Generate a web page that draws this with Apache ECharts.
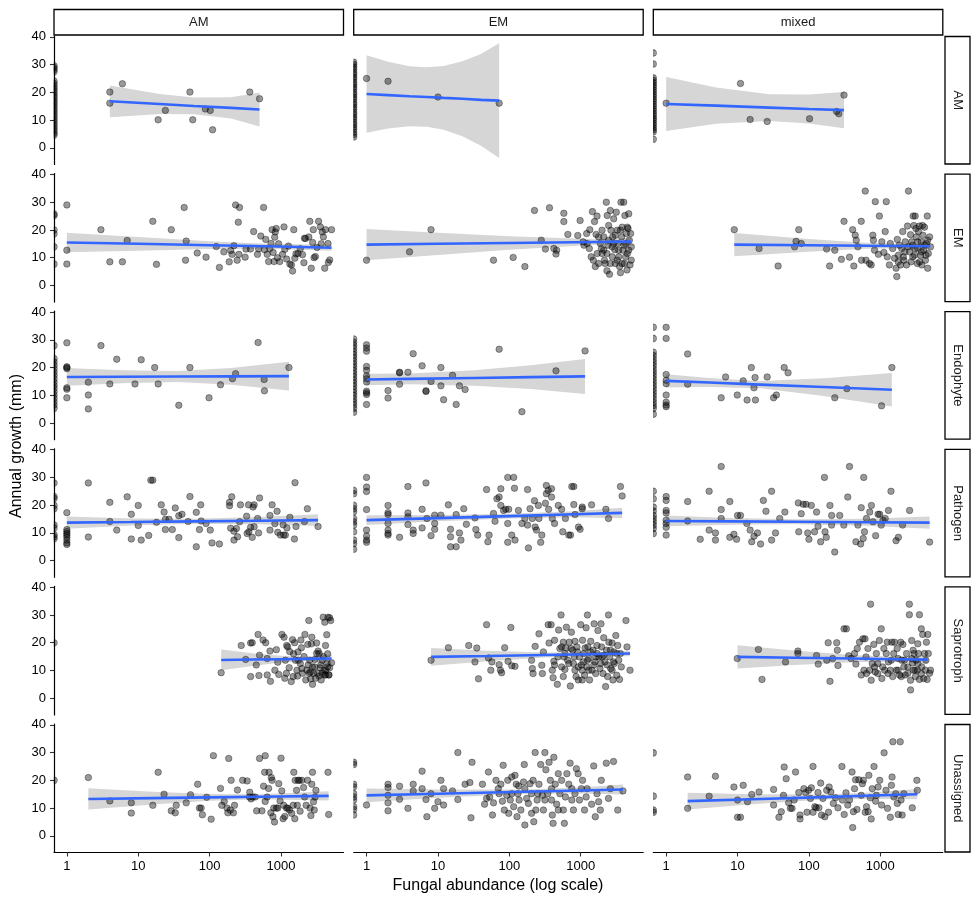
<!DOCTYPE html>
<html>
<head>
<meta charset="utf-8">
<script src="https://cdn.jsdelivr.net/npm/echarts@6/dist/echarts.min.js"></script>
<style>
    html, body { margin: 0; padding: 0; background: #fff; }
    #chart { width: 980px; height: 904px; }
</style>
</head>
<body>
<div id="chart"></div>
<script>
// facet labels and tick labels
var columns = ['AM', 'EM', 'mixed'];
var rows = ['AM', 'EM', 'Endophyte', 'Pathogen', 'Saprotroph', 'Unassigned'];
var xTicks = [1, 10, 100, 1000];
var yTicks = [0, 10, 20, 30, 40];

// points: [fungal abundance, annual growth]; abundance 0 sits on the left border (log of 0)
var pts_AM_AM = [[0,29.6],[0,28.9],[0,28.2],[0,27.4],[0,24.1],[0,23.2],[0,22.3],[0,21.5],[0,20.6],[0,19.8],[0,18.9],[0,18.1],[0,17.2],[0,16.4],[0,15.5],[0,14.7],[0,13.8],[0,13.0],[0,12.1],[0,11.3],[0,10.4],[0,9.6],[0,8.7],[0,7.9],[0,7.0],[0,6.2],[0,5.3],[0,4.6],
    [4,20.1],[4,16.1],[6,23.1],[19,10.1],[24,13.5],[53,20.1],[58,10.1],[87,14],[102,13.5],[110,6.5],[365,20.1],[500,17.7]];
var pts_EM_AM = [[0,30.8],[0,30],[0,29.1],[0,28.3],[0,27.2],[0,26.4],[0,25.5],[0,24.7],[0,23.6],[0,22.8],[0,21.9],[0,21.1],[0,20],[0,19.2],[0,18.3],[0,17.5],[0,16.4],[0,15.6],[0,14.7],[0,13.9],[0,12.8],[0,12],[0,11.1],[0,10.3],[0,9.2],[0,8.4],[0,7.5],[0,6.7],[0,5.6],[0,4.8],[0,3.9],
    [1,25],[2,24],[10,18.3],[72,16.1]];
var pts_mixed_AM = [[0,34.2],[0,30.2],[0,25.2],[0,24.3],[0,23.5],[0,22.6],[0,21.8],[0,20.9],[0,20.1],[0,19.2],[0,18.4],[0,17.5],[0,16.7],[0,15.8],[0,15],[0,14.1],[0,13.3],[0,12.4],[0,11.6],[0,10.7],[0,9.9],[0,9],[0,8.2],[0,7.3],[0,6.5],[0,5.8],[0,3.1],
    [1,16.1],[11,23.2],[15,10.2],[26,9.5],[102,10.5],[244,13.1],[262,12.3],[310,19]];

var pts_AM_EM = [[0,25.7],[0,25.2],[0,20],[0,18.6],[0,13.9],[0,7.7],[1,29],[1,12.7],[1,7.7],
    [3,20.1],[4,8.5],[6,8.5],[7,16.2],[16,23.1],[18,7.6],[29,20.1],[44,28.1],[46,9.1],[47,16],[67,11.7],[89,10.2],
    [124,14],[137,6.5],[158,12.1],[188,8.5],[197,12.6],[206,11.2],[219,14.3],[231,29],[243,9.1],[252,22.8],[262,28.1],[257,11.2],
    [314,10.2],[323,13.1],[373,13.1],[413,19.4],[468,11.2],[485,13.2],[520,17.8],[570,28.1],[585,12.9],[611,16.6],[641,11.2],
    [670,8.6],[695,13.3],[725,15.1],[750,20.1],[775,11.9],[800,8.6],[815,17.4],[830,19.3],[857,20.5],[890,10],[925,15],[960,8.6],
    [1050,11.2],[1100,21.1],[1130,13],[1200,9.5],[1270,14.2],[1330,7.7],[1400,7.4],[1450,5.2],[1510,20.1],[1560,9.8],[1620,11.4],
    [1730,11.5],[1860,13.2],[2000,11.1],[2090,8.2],[2130,17],[2200,16.9],[2450,17.5],[2530,23.1],[2650,6.2],[2770,15.5],[2830,20.1],
    [2900,10],[3030,10.4],[3200,13.7],[3360,23.1],[3560,21.1],[3650,15],[3780,19.3],[3920,17.5],[4090,6.2],[4200,20.1],[4550,15.1],
    [4600,8.3],[4800,9.2],[5100,20.1]];
var pts_EM_EM = [[1,9.1],[4,12.1],[8,20.1],[60,9.1],[113,10.1],[165,6.8],[225,27],[280,16.3],[320,13.1],[365,28],[420,13.3],[450,11.3],
    [460,12.7],[580,26],[580,23],[660,18.4],[910,18],[980,23.4],[1110,14.5],[1210,18.7],[1320,13.3],[1340,20.1],[1460,26.6],
    [1560,23],[1600,6.8],[1640,18.4],[1690,25],[1780,7.9],[1880,15.1],[1990,11.5],[2100,17.5],[2200,7.9],[2280,30],[2330,5.3],
    [2350,25.2],[2400,14.5],[2460,21.6],[2530,4],[2600,27],[2650,19.9],[2760,10.3],[2800,17.5],[2900,24],[3000,12.9],[3050,7.9],
    [3150,26.4],[3250,19.9],[3330,15.1],[3400,10.3],[3500,6.8],[3600,4.6],[3660,30],[3750,17.5],[3800,21],[3900,12.7],[4000,30],
    [4100,7.9],[4150,25.2],[4250,15.1],[4350,18.7],[4450,5.6],[4500,11.5],[4600,20.5],[4700,25.8],[4800,16.3],[4900,7.4],[5000,18.7],
    [5100,13.9],[5100,9.1],[1780,17.5],[1990,19.9],[2100,12.7],[2460,16.3],[2760,13.9],[3050,18.1],[3400,12.7],[3800,7.9],[4250,10.3],
    [4700,12.7],[4500,21],[4050,14.5],[3600,19.9],[3250,9.1],[2900,15.1],[2600,7.9],[2330,11.5],[2150,9.1],[1950,13.3],[1700,11.5],
    [1500,9.1],[1400,10.3],[1230,15.1],[1080,15.7]];
var pts_mixed_EM = [[9,20.1],[20,13.3],[37,7],[66,15.9],[63,13.9],[72,20.1],[78,15.1],[177,13.1],[195,7],[230,12.7],[285,9.4],[310,23.1],
    [370,10.2],[410,20.1],[425,7],[445,18.1],[460,16.3],[485,13.9],[540,23.1],[545,9.1],[615,34],[630,9.1],[705,7.9],[745,7.4],
    [785,18.1],[800,16.3],[830,12.7],[850,30.2],[940,11.2],[970,25],[1050,15.7],[1120,11.9],[1170,19.4],[1210,30.2],[1250,10.3],
    [1340,7.4],[1380,15.1],[1490,13.3],[1580,9.8],[1660,6.2],[1700,3.2],[1730,16.6],[1790,10.9],[1920,7.4],[2000,13.3],[2060,19.4],
    [2140,9.1],[2230,15.7],[2330,7.4],[2400,21.4],[2480,34],[2570,12.1],[2650,18.3],[2700,8.5],[2820,14.5],[2880,25],[2950,21.6],
    [3020,10.9],[3080,25],[3190,17.5],[3300,7.9],[3340,13.3],[3420,19.4],[3530,21.4],[3650,10.9],[3720,15.7],[3810,7.4],[3950,18.1],
    [4070,12.7],[4160,21],[4280,9.1],[4430,15.1],[4540,25],[4610,6.2],[4700,11.5],[4900,17.5],[5050,13.9],
    [1850,14.5],[2200,12.1],[2450,13.9],[2750,15.7],[3050,13.3],[3350,15.7],[3750,12.1],[4150,14.5],[4600,16.3],[1780,8.5],[2100,10.3],
    [2850,10.3],[3550,8.5],[4350,10.9],[3150,20.5],[3900,21.6]];

var pts_AM_Endophyte = [[0,27.9],[0,23.2],[0,22],[0,20.8],[0,19.6],[0,18.4],[0,17.2],[0,16],[0,14.8],[0,13.6],[0,12.5],[0,11.3],[0,10.1],[0,8.9],[0,7.7],[0,6.5],[0,5.3],
    [1,28.9],[1,20.3],[1,20],[1,19.6],[1,12.7],[1,12.2],[1,9.1],
    [2,14.7],[2,10.1],[2,5.1],[3,27.9],[4,14.1],[5,23],[9,14.1],[11,22.8],[17,20],[19,14.1],[37,6.4],[53,20],[98,9.1],[142,13.8],
    [209,16],[231,17.8],[477,29],[580,15.7],[585,11.6],[1290,20]];
var pts_EM_Endophyte = [[0,30.3],[0,29.1],[0,28],[0,26.9],[0,25.7],[0,24.6],[0,23.5],[0,22.3],[0,21.2],[0,20.1],[0,18.9],[0,17.8],[0,16.7],[0,15.5],[0,14.4],[0,13.3],[0,12.1],[0,11],[0,9.9],[0,8.7],[0,7.6],[0,6.5],[0,5.3],[0,3.9],
    [1,28.2],[1,27],[1,25.9],[1,20.4],[1,19],[1,17],[1,16],[1,14.8],[1,11.5],[1,10.9],[1,10.3],[1,6.7],
    [2,11.7],[2,9],[2.9,18.3],[2.9,18.1],[2.9,14],[3.8,18.3],[4.5,25],[6,20.6],[6.8,11.6],[6.8,11.4],[8,15],[11,20],[11,13.4],[12,8.4],
    [16,17.2],[18,6.7],[20,13.4],[24,12.1],[72,26.6],[150,4.1],[450,18.8],[1150,26]];
var pts_mixed_Endophyte = [[0,34.5],[0,30.5],[0,25.5],[0,24.3],[0,23.1],[0,21.9],[0,20.7],[0,19.5],[0,18.3],[0,17.1],[0,15.9],[0,14.7],[0,13.5],[0,12.3],[0,11.1],[0,9.9],[0,8.7],[0,7.5],[0,6.3],[0,5.3],[0,3.2],
    [1,34.5],[1,30.5],[1,17.5],[1,15.4],[1,14.2],[1,10.1],[1,7.5],[1,6.5],[1,5.9],
    [2,24.9],[2,14],[5.9,9.1],[6.8,16.6],[9.9,10.1],[12,15.2],[13.6,8.3],[15.6,20],[17,12.7],[17.6,16.4],[17.8,8.3],[26,16.6],
    [32,9.1],[35,10.1],[45,20],[51,18.1],[230,9.1],[340,12.4],[1040,6.2],[1450,20]];

var pts_AM_Pathogen = [[0,28],[0,23.1],[0,22.4],[0,19.9],[0,18.7],[0,12.8],[0,11.8],[0,9.4],[0,8.6],[0,7.9],
    [1,17.3],[1,11.2],[1,10.5],[1,9.8],[1,9.2],[1,8.4],[1,7.4],[1,6.4],[1,5.8],
    [2,28],[2,8.5],[4,21],[4,14.1],[5,11],[7,23],[8,16.7],[8,7.8],[10,12.7],[10,19.9],[11,7.4],[14,9.1],[15,29],[16,29],[18,13.8],
    [21,20.1],[23,17.5],[24,11.2],[24,14.9],[27,14.9],[30,11.2],[33,19],[37,16.2],[37,8.3],[41,16.7],[50,14.1],[53,23.1],[65,17.4],
    [65,5],[72,11.2],[75,20.1],[76,14.3],[89,13.4],[102,11],[108,6.4],[137,6],[190,21],[190,19.8],[197,11.7],[204,23],[219,7.4],
    [219,10.6],[237,11.6],[246,8.6],[263,14],[270,20.1],[330,16],[335,9.8],[350,20.1],[355,10.4],[375,12],[395,8.4],[405,19.3],
    [420,20.1],[420,12.2],[470,15.2],[485,10],[500,22.6],[700,11],[750,20.1],[700,16.3],[820,13.3],[880,17.8],[900,10.2],[980,9.2],
    [1070,12.9],[1090,9.2],[1150,9.2],[1210,11.8],[1330,15.6],[1540,7.8],[1570,28.1],[1620,12.3],[2130,14.1],[2340,18.7],[3300,12.3]];
var pts_EM_Pathogen = [[0,25.3],[0,24.1],[0,19.9],[0,18.7],[0,17.6],[0,15.2],[0,14],[0,12.8],[0,10.4],[0,7.4],[0,6.2],[0,4.1],
    [1,30],[1,26.5],[1,24.9],[1,18.4],[1,11],[1,8.9],[1,7.4],[1,6.6],
    [2,19.9],[2,17.3],[2,16.6],[2,13.4],[2,11],[2,9.8],[2,9.2],[2.9,8.4],[3.8,26.7],[3.8,17.2],[3.8,15.8],[3.8,13],[4.5,11],[4.5,9.8],
    [6,18.5],[6,11.8],[6.8,28],[7,15.2],[8,9],[9,16.4],[9,13.4],[9,11.3],[11,16.4],[14,20.1],[15,11.3],[15,8.6],[15,5],[18,5],
    [18,16.6],[20,10],[21,7.4],[23,18.7],[25,13.1],[33,15.4],[34,11.2],[36,9.2],[48,25.6],[50,6.8],[52,9.2],[60,17],[63,14.2],
    [67,22.3],[72,22.9],[76,25.9],[76,19.9],[83,18.1],[89,18.5],[95,13.4],[95,6.6],[98,18.5],[95,30],[115,30],[118,26.1],[108,9.2],
    [120,7.4],[134,18.1],[150,13.4],[165,15.2],[180,25.6],[185,4.6],[180,12.8],[195,18.7],[210,15.2],[225,21.6],[230,12.1],[240,11],
    [255,19.9],[260,15.2],[275,6.6],[285,9.2],[320,20.7],[330,27.1],[330,24.1],[350,25.3],[355,18.5],[390,22.9],[390,25.9],[400,15.2],
    [430,13.4],[485,19.9],[540,18.5],[560,10.4],[610,15.2],[680,9.2],[720,9.2],[750,26.7],[800,26.7],[800,20.2],[830,16.6],[930,12.1],
    [980,11.3],[1050,18.7],[1050,19.3],[1420,20.1],[2250,18.5],[2450,15.2],[3600,26.7],[3800,23.3]];
var pts_mixed_Pathogen = [[0,25],[0,22.3],[0,19.3],[0,17.9],[0,16.3],[0,15.2],[0,14],[0,12.8],[0,11.6],[0,9.8],
    [1,23.1],[1,21.7],[1,18.1],[1,17.2],[1,14.6],[1,13.4],[1,12],[1,9.2],
    [2,21.3],[2,14.3],[3,7.7],[4,25],[4,11],[4.9,10],[4.9,7.4],[5.9,33.9],[5.9,18.4],[5.9,15.2],[7.8,21.3],[7.8,8.4],[8.9,9.5],
    [9.7,7.7],[10,16.3],[11,16.3],[13.5,13.4],[15,11],[15.8,6.8],[17,8.8],[19,10],[21,6],[23,21.7],[25,17.8],[30,25],[30,7.4],
    [34,10],[39,15.2],[46,17.5],[71,20.8],[72,10.4],[78,16.9],[83,20.3],[91,20.3],[96,10],[100,7.7],[108,19.9],[120,10.4],[128,17.5],
    [134,12.4],[146,6.8],[165,30],[168,10.4],[175,8.4],[197,19.9],[208,16.3],[208,12.8],[230,3.1],[270,16.3],[308,12.8],[350,22.9],
    [370,33.9],[455,6.8],[485,12.8],[530,6],[540,19.1],[575,8],[585,30],[600,10.4],[640,15.2],[710,17.5],[750,19.9],[790,14],
    [860,9],[930,16.7],[980,16.7],[1030,12.8],[1090,14.6],[1170,15.2],[1300,18.1],[1410,25],[1660,7.2],[1790,8.4],[2050,12.8],
    [2570,18.1],[4900,6.7]];

var pts_AM_Saprotroph = [[0,20],
    [145,9.2],[277,19],[375,19.9],[395,20],[477,23],[500,15.5],[610,20],[640,14.3],[640,8.4],[710,6.1],[860,17.5],[1030,23],
    [490,8.2],[375,7.8],[1150,13.7],[1190,9],[1240,18.5],[1320,16.8],[1390,6],[1450,21.1],[1480,7.8],[1550,20],[1590,13.7],
    [1670,10.1],[1730,16.7],[1860,12.5],[1930,18.2],[2160,23],[2220,6.6],[2300,10.1],[2370,19.4],[2450,28],[2530,13.7],[2580,9.5],
    [2660,19.6],[2760,5],[2850,9],[2950,11.3],[3050,7.2],[3150,19.9],[3250,9],[3420,16.1],[3530,11],[3650,6.6],[3770,9],[3900,29.2],
    [4100,27.4],[4230,10.1],[4370,22.9],[4550,29.2],[4640,8.4],[4800,29],[4960,28],[5100,12.8],[4500,11.3],[4100,8.4],[820,10.1],
    [930,8.6],[1130,7.2],[1750,13.7],[1960,10.7],[2480,9],[2760,11.3],[4200,8.4],[4700,8.4],[4400,12.5],[3770,13.7],[3150,16.1],
    [320,14],[450,12],[560,21],[700,17],[900,13],[1100,22],[1300,11],[1500,16],[1700,8],[1900,21],[2100,15],[2400,12],[2700,22],
    [3000,14],[3300,17],[3600,12],[3900,15],[4200,19],[4500,16],[4800,11],[2000,9],[2600,7],[3400,8],[4000,10],[1200,19]];
var pts_EM_Saprotroph = [[8,13.7],[14,18.2],[27,19],[33,13.1],[35,18.1],[37,7],[48,26.5],[51,14.5],[55,10.1],[57,13.1],[72,12.1],
    [75,10.1],[78,9.2],[86,18.2],[96,13.3],[105,25.5],[108,11.7],[120,11.5],[205,13.7],[210,10.7],[215,8.9],[230,18.7],[260,23.2],
    [285,11.9],[290,8.9],[300,16.7],[350,26.5],[360,19.9],[385,26.5],[400,10.1],[410,7.4],[420,13.3],[430,20.9],[470,5],[490,24.6],
    [510,17.9],[530,30],[540,11.3],[570,20.2],[585,14.9],[600,10.4],[620,18.1],[630,25.6],[655,13.7],[690,20.2],[715,4.4],[740,23.8],
    [770,17.3],[790,12.5],[830,20.5],[860,7.8],[885,18.5],[925,11.3],[960,14.9],[1000,26.5],[1050,6.6],[1060,20.9],[1090,13.1],
    [1130,8.3],[1150,18.1],[1190,25.4],[1220,11.3],[1240,30],[1260,18.5],[1300,14.3],[1330,6.6],[1380,20.5],[1440,10.1],[1490,17.3],
    [1540,26.8],[1580,13.1],[1620,8.9],[1690,19],[1740,24.4],[1800,14.9],[1860,10.7],[1920,26.8],[1960,18.5],[2050,8.9],[2100,21.8],
    [2180,13.1],[2230,4.2],[2300,17.3],[2380,7.8],[2450,30],[2480,20.2],[2550,14.9],[2630,10.7],[2750,19.9],[2830,6.6],[2900,16.7],
    [2950,12.5],[3100,22.6],[3200,8.3],[3300,19],[3400,13.7],[3500,6.8],[3600,16.1],[3700,11.3],[4300,28],[4450,18.5],[4900,10.1],
    [480,14.9],[540,18.5],[600,16.1],[680,12.5],[730,17.9],[810,14.9],[900,16.7],[1020,12],[1100,16.1],[1240,13.7],[1370,16.7],
    [1520,12],[1700,16.1],[1900,12.5],[2100,15.5],[2350,12],[2600,17.3],[2880,13.1],[3200,16.1],[830,10.1],[1050,10.1],[1300,10.1],
    [1620,14.9],[2000,14.9],[2750,10.1],[430,12],[570,7.8],[925,6.6]];
var pts_mixed_Saprotroph = [[9.9,14.3],[19.6,17.6],[22,6.8],[47,13.1],[70,17],[70,16.1],[128,15.4],[135,12.3],[178,13.7],[186,20],
    [197,6.1],[215,14.3],[245,20],[250,17.3],[255,11.8],[310,25],[335,25],[360,15.3],[390,14.3],[435,16.1],[455,12.3],[475,17.9],
    [510,20.2],[540,8.4],[570,21.4],[590,10.1],[610,21.4],[630,14.9],[670,17.9],[710,10.1],[730,33.9],[745,6.5],[770,12.5],[810,19.4],
    [850,9.5],[880,16.1],[920,12.5],[970,20.8],[1030,25],[1050,7.1],[1120,17.9],[1150,10.1],[1210,16.1],[1250,20.2],[1300,13.1],
    [1380,10.1],[1450,20.2],[1490,7.8],[1540,16.1],[1580,20.2],[1670,10.1],[1720,17.9],[1770,14.3],[1860,8.4],[1930,20.2],[2000,13.7],
    [2070,19.4],[2140,11.3],[2230,8.4],[2330,16.1],[2430,9],[2550,33.9],[2550,30.1],[2650,6.5],[2650,3],[2750,20.8],[2830,12.7],
    [2910,10.1],[2970,16.1],[3100,7.8],[3180,13.7],[3300,10.1],[3420,16.1],[3530,30.1],[3530,6.8],[3750,25],[3800,11.3],[3920,23],
    [4050,7.1],[4150,16.1],[4280,10.1],[4420,20.2],[4520,6.8],[4620,23],[4700,16.1],[4900,9],[5050,10.1],
    [640,8.9],[830,11.3],[920,8.9],[1080,11.3],[1280,8.9],[1420,13.7],[1770,10.1],[1960,7.8],[2180,13.7],[2430,11.3],[2750,14.3],
    [3050,10.1],[3350,12.5],[3750,8.9],[4350,13.7],[2880,17.3],[3350,19.6]];

var pts_AM_Unassigned = [[0,20],
    [2,21],[4,12.6],[8,11.9],[8,8.2],[16,11],[19,22.9],[23,15],[29,9],[33,8.3],[34,11],[47,11.9],[54,14.8],[68,18.6],[72,10],[76,10],
    [79,7.6],[91,13.9],[105,6],[113,28.9],[142,17.1],[148,11],[160,12.4],[175,10],[180,8.3],[185,27.9],[195,9.3],[200,20],[215,8.3],
    [223,11],[245,16.5],[290,20],[335,19.8],[360,14],[365,15.7],[380,13.3],[400,14],[435,14],[455,9],[500,27.9],[540,9],[570,17.9],
    [590,22.9],[600,28.9],[600,12.4],[640,14],[670,17.1],[680,22.9],[720,8.3],[730,21],[750,20],[770,6.9],[790,10],[810,5],[860,10],
    [900,10],[930,18.8],[970,12.6],[1000,28],[1025,16.2],[1070,6.2],[1090,11],[1130,7],[1190,10],[1240,10],[1310,9.3],[1410,8.1],
    [1480,11],[1510,22.9],[1560,6.2],[1580,20],[1650,16.4],[1690,11],[1730,20],[1800,20],[1850,8.9],[1950,20],[2070,17.4],[2140,14],
    [2250,11],[2350,20],[2550,10],[2620,7.3],[2700,18.6],[2760,22.9],[2850,12.3],[2920,9.3],[3000,14],[3080,16.4],[4550,22.9],[4650,7.7]];
var pts_EM_Unassigned = [[0,26.5],[0,25.7],[0,18.6],[0,17.6],[0,15.2],[0,14],[0,12.9],[0,10.5],[0,9.5],[0,7.5],[1,11.1],
    [2,18.6],[2,17.4],[2,14.6],[2,11.9],[2,9],[2.9,17.9],[2.9,13.2],[3.8,9.9],[4.5,18.6],[4.5,16.2],[6,23.3],[6,17],[6.8,13.1],
    [7,6.9],[8,15.2],[9,9.9],[10,12.3],[11,20],[12,17],[12,11.1],[16,16.2],[19,30],[19,13.1],[24,18.6],[28,19.2],[29,6.5],[30,26.5],
    [42,18.6],[45,11.4],[48,13.5],[51,23],[53,14],[58,7.5],[60,11.9],[65,20],[72,15.2],[76,18.6],[80,12.5],[82,25.4],[85,9.3],
    [92,14.6],[95,20],[98,8.1],[103,12.9],[108,21.2],[115,10.5],[120,21.8],[125,18.6],[128,6.9],[132,15.2],[137,12.9],[145,9.3],
    [158,19.4],[162,25.7],[165,3.9],[175,13.5],[185,11.7],[195,18.8],[205,15.2],[215,20],[220,5.1],[230,30],[235,9.3],[245,12.9],
    [260,18.6],[275,25.7],[290,14.6],[300,9.3],[315,30],[325,23.8],[345,15.2],[360,26.5],[375,20],[390,12.9],[400,7.5],[410,4.5],
    [420,28.3],[440,18.6],[460,11.4],[485,22.4],[510,15.2],[540,20],[570,9.3],[590,4.5],[610,14],[640,22.4],[680,18.6],[710,26.2],
    [750,12.9],[790,9.3],[830,15.2],[870,24.2],[920,22.4],[960,12.9],[1020,17],[1060,20],[1130,9.3],[1190,14],[1230,17],[1420,11.4],
    [1520,25.2],[1600,6.9],[1690,15.2],[1780,12.3],[1880,9.3],[1940,20],[2280,26.2],[2450,13.5],[2600,17],[2880,26.8],[3300,9.3],
    [3900,16.2],[135,18],[205,8.1],[315,12.9],[485,9.3],[750,17],[390,17],[250,15.2],[165,17],[108,15.2],[70,17]];
var pts_mixed_Unassigned = [[0,29.9],[0,14.3],[0,9.3],[0,8.5],
    [2,21.2],[2,9.9],[4,14.3],[4.9,21.5],[8.9,17.6],[10,12.9],[10,6.7],[11,6.7],[12,18.2],[13.8,12.3],[15.8,14.9],[20,15.8],[32,16.7],
    [32,11.1],[38,6.7],[41,8.7],[44,14.6],[45,24.8],[48,20.6],[52,11.9],[55,9.9],[58,9.9],[62,12.9],[65,23],[72,15.6],[75,7.5],
    [75,6.1],[85,17],[90,15.6],[94,8.5],[99,16.4],[105,13.5],[108,17.3],[114,25],[114,8.5],[121,10.5],[126,10.1],[134,15.6],[138,10.1],
    [146,19],[150,7.5],[157,13.5],[167,6.9],[177,16.4],[188,8.5],[192,17.6],[203,15.8],[220,11.7],[236,13.7],[255,10.1],[290,25],
    [295,12.9],[312,7.7],[330,15.5],[350,11.1],[370,12.9],[402,23],[410,3],[420,8.7],[435,17],[450,20.2],[470,9.5],[500,20.2],
    [540,14.6],[560,18.8],[580,20],[615,8.5],[640,10.5],[675,8.7],[690,21.8],[725,13.7],[745,6.1],[770,17],[815,25],[860,12.5],
    [880,14.6],[930,17.6],[980,20],[1040,11.1],[1130,29.9],[1200,16.4],[1260,9.9],[1380,6.7],[1430,18.2],[1460,21.2],[1500,33.9],
    [1550,14],[1640,15.2],[1730,11.7],[1780,7.7],[1900,33.9],[1950,12.9],[2020,7.5],[2130,15.2],[2800,10.1],[3250,20],[3300,16.4]];

// smooth fits: [abundance, fit, lower 95% band, upper 95% band]
var fit_AM_AM = [[4,16.8,11.0,22.5],[20,15.8,12.2,19.4],[60,15.1,12.1,18.1],[200,14.4,10.6,18.2],[500,13.8,7.7,19.9]];
var fit_EM_AM = [[1,19.4,5.4,33.4],[2,19.0,7.0,31.0],[4,18.6,7.8,29.4],[7,18.3,7.6,29.0],[12,18.0,6.5,29.5],[22,17.7,4.2,31.2],[40,17.3,0.8,33.8],[72,17.0,-3.7,37.7]];
var fit_mixed_AM = [[1,15.8,6.1,25.5],[5,15.2,8.7,21.7],[28,14.5,9.7,19.3],[100,14.0,8.8,19.2],[310,13.6,7.1,20.1]];
var fit_AM_EM = [[1,15.5,12.0,19.0],[10,15.0,12.5,17.5],[100,14.5,13.1,15.9],[630,14.1,13.2,15.0],[5100,13.6,12.5,14.7]];
var fit_EM_EM = [[1,14.7,9.1,20.3],[10,15.0,11.0,19.0],[100,15.3,12.9,17.7],[1600,15.65,14.65,16.65],[5100,15.8,14.45,17.15]];
var fit_mixed_EM = [[9,14.7,10.5,18.9],[100,14.47,12.17,16.77],[630,14.3,13.2,15.4],[2000,14.19,13.39,14.99],[5000,14.1,13.2,15.0]];
var fit_AM_Endophyte = [[1,16.6,13.4,19.8],[6,16.68,14.38,18.98],[36,16.75,14.75,18.75],[200,16.82,13.82,19.82],[1290,16.9,11.7,22.1]];
var fit_EM_Endophyte = [[1,15.7,13.6,17.8],[4,15.92,14.02,17.82],[32,16.24,13.44,19.04],[200,16.53,12.23,20.83],[1150,16.8,10.5,23.1]];
var fit_mixed_Endophyte = [[1,15.2,12.8,17.6],[4,14.59,12.99,16.19],[21,13.85,12.55,15.15],[160,12.97,9.77,16.17],[1450,12.0,5.95,18.05]];
var fit_AM_Pathogen = [[1,13.7,11.5,15.9],[8,13.93,12.63,15.23],[63,14.16,13.26,15.06],[500,14.39,13.09,15.69],[3300,14.6,12.45,16.75]];
var fit_EM_Pathogen = [[1,14.6,12.85,16.35],[10,15.33,14.23,16.43],[100,16.05,15.2,16.9],[800,16.7,15.6,17.8],[3800,17.2,15.3,19.1]];
var fit_mixed_Pathogen = [[1,14.3,12.35,16.25],[8,14.15,12.95,15.35],[63,14.0,13.1,14.9],[630,13.84,12.54,15.14],[4900,13.7,11.5,15.9]];
var fit_AM_Saprotroph = [[145,13.8,10.05,17.55],[400,13.94,11.64,16.24],[1000,14.07,12.87,15.27],[2240,14.18,13.38,14.98],[5100,14.3,12.8,15.8]];
var fit_EM_Saprotroph = [[8,14.9,11.7,18.1],[50,15.24,13.34,17.14],[316,15.59,14.69,16.49],[1260,15.85,15.15,16.55],[4900,16.1,15.15,17.05]];
var fit_mixed_Saprotroph = [[10,14.9,10.7,19.1],[63,14.6,12.0,17.2],[400,14.3,13.0,15.6],[1580,14.07,13.17,14.97],[4600,13.9,12.4,15.4]];
var fit_AM_Unassigned = [[2,13.3,9.45,17.15],[16,13.59,11.29,15.89],[100,13.85,12.65,15.05],[500,14.08,13.18,14.98],[4650,14.4,12.75,16.05]];
var fit_EM_Unassigned = [[1,14.6,12.1,17.1],[10,15.19,13.69,16.69],[160,15.89,15.09,16.69],[1000,16.36,15.26,17.46],[3900,16.7,14.9,18.5]];
var fit_mixed_Unassigned = [[2,12.5,9.45,15.55],[16,13.2,11.4,15.0],[160,13.97,13.07,14.87],[800,14.52,13.32,15.72],[3300,15.0,13.15,16.85]];
</script>
<script>
(function () {
    // 面板布局
    var XMIN = -0.18, XMAX = 3.875, YMIN = -6, YMAX = 40.3;
    var gridLeft = [54, 353.7, 653.3], gridW = 289.5;
    var gridTop0 = 36, rowStep = 137.6, gridH = 128.5;
    var font = '"Liberation Sans", Arial, sans-serif';
    var halfDot = 'path://M0,0 A5,5 0 0 1 0,10 Z';

    var grids = [], xAxes = [], yAxes = [], series = [], graphics = [];

    function lg(v) { return Math.log(v) / Math.LN10; }

    // 置信带：整条带画成一个多边形
    function renderBand(params, api) {
        if (params.dataIndexInside !== 0) return null;
        var n = params.dataInsideLength, upper = [], lower = [];
        for (var j = 0; j < n; j++) {
            upper.push(api.coord([api.value(0, j), api.value(2, j)]));
            lower.push(api.coord([api.value(0, j), api.value(1, j)]));
        }
        return {
            type: 'polygon',
            shape: {points: upper.concat(lower.reverse())},
            style: {fill: '#d6d6d6'}
        };
    }

    rows.forEach(function (row, r) {
        columns.forEach(function (col, c) {
            var i = r * columns.length + c;
            var isBottom = r === rows.length - 1;
            var isLeft = c === 0;
            var pts = window['pts_' + col + '_' + row];
            var fit = window['fit_' + col + '_' + row];

            grids.push({left: gridLeft[c], top: gridTop0 + r * rowStep, width: gridW, height: gridH});

            xAxes.push({
                gridIndex: i, type: 'value', min: XMIN, max: XMAX,
                splitLine: {show: false},
                axisLine: {show: isBottom, onZero: false, lineStyle: {color: '#000', width: 1.2}},
                axisTick: {show: isBottom, length: 4, customValues: xTicks.map(lg), lineStyle: {color: '#333', width: 1.1}},
                axisLabel: {
                    show: isBottom, customValues: xTicks.map(lg), margin: 7,
                    color: '#000', fontSize: 13, fontFamily: font,
                    formatter: function (v) { return String(Math.round(Math.pow(10, v))); }
                }
            });
            yAxes.push({
                gridIndex: i, type: 'value', min: YMIN, max: YMAX,
                splitLine: {show: false},
                axisLine: {show: isLeft, onZero: false, lineStyle: {color: '#000', width: 1.2}},
                axisTick: {show: isLeft, length: 4, customValues: yTicks, lineStyle: {color: '#333', width: 1.1}},
                axisLabel: {show: isLeft, customValues: yTicks, margin: 8, color: '#000', fontSize: 13, fontFamily: font}
            });

            series.push({
                type: 'custom', xAxisIndex: i, yAxisIndex: i, z: 1, silent: true,
                data: fit.map(function (f) { return [lg(f[0]), f[2], f[3]]; }),
                encode: {x: 0, y: [1, 2]},
                renderItem: renderBand
            });

            // 散点
            var inner = [], edge = [];
            pts.forEach(function (p) {
                if (p[0] === 0) edge.push([XMIN + 0.0005, p[1]]);
                else inner.push([lg(p[0]), p[1]]);
            });
            series.push({
                type: 'scatter', xAxisIndex: i, yAxisIndex: i, data: inner, symbolSize: 6.5, z: 2,
                itemStyle: {color: 'rgba(0,0,0,0.5)', borderColor: 'rgba(0,0,0,0.55)', borderWidth: 0.8}
            });
            if (edge.length) {
                series.push({
                    type: 'scatter', xAxisIndex: i, yAxisIndex: i, data: edge, z: 2,
                    symbol: halfDot, symbolSize: [3.3, 6.5], symbolOffset: [1.65, 0],
                    itemStyle: {color: 'rgba(0,0,0,0.5)', borderColor: 'rgba(0,0,0,0.55)', borderWidth: 0.8}
                });
            }

            // 回归线
            series.push({
                type: 'line', xAxisIndex: i, yAxisIndex: i, z: 3,
                data: fit.map(function (f) { return [lg(f[0]), f[1]]; }),
                symbol: 'none', lineStyle: {color: '#3366FF', width: 2.6}
            });
        });

        // 右侧分面标签
        var top = gridTop0 + r * rowStep;
        graphics.push({type: 'rect', shape: {x: 945, y: top + 0.5, width: 25, height: gridH - 1},
            style: {fill: '#fff', stroke: '#000', lineWidth: 1.3}});
        graphics.push({type: 'text', x: 957.5, y: top + gridH / 2, rotation: -Math.PI / 2,
            style: {text: row, fill: '#1a1a1a', font: '13px ' + font, textAlign: 'center', textVerticalAlign: 'middle'}});
    });

    // 顶部分面标签
    columns.forEach(function (col, c) {
        graphics.push({type: 'rect', shape: {x: gridLeft[c], y: 9.5, width: gridW, height: 25.5},
            style: {fill: '#fff', stroke: '#000', lineWidth: 1.3}});
        graphics.push({type: 'text', x: gridLeft[c] + gridW / 2, y: 22.5,
            style: {text: col, fill: '#1a1a1a', font: '13px ' + font, textAlign: 'center', textVerticalAlign: 'middle'}});
    });

    // 坐标轴标题
    graphics.push({type: 'text', x: 17, y: 446, rotation: Math.PI / 2,
        style: {text: 'Annual growth (mm)', fill: '#000', font: '16px ' + font, textAlign: 'center', textVerticalAlign: 'middle'}});
    graphics.push({type: 'text', x: 498, y: 886,
        style: {text: 'Fungal abundance (log scale)', fill: '#000', font: '16px ' + font, textAlign: 'center', textVerticalAlign: 'middle'}});

    var chart = echarts.init(document.getElementById('chart'));
    chart.setOption({
        animation: false,
        backgroundColor: '#fff',
        grid: grids,
        xAxis: xAxes,
        yAxis: yAxes,
        series: series,
        graphic: graphics
    });
})();
</script>
</body>
</html>
